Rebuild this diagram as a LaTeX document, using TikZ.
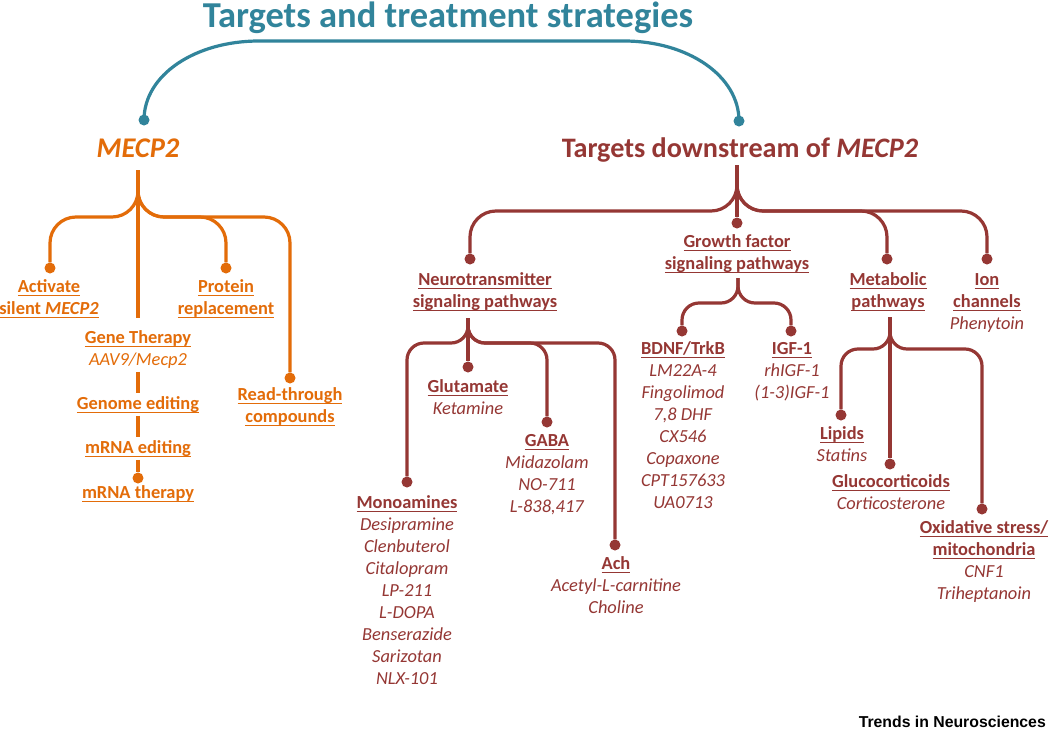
\documentclass[tikz,border=0pt]{standalone}
\usepackage{fontspec}
\setmainfont{Carlito}
\newfontfamily\trendsfont{Liberation Sans}
\definecolor{tealc}{HTML}{31849B}
\definecolor{orng}{HTML}{E36C09}
\definecolor{dred}{HTML}{953734}
\newsavebox\ulbox
\newcommand\ulx[1]{\sbox\ulbox{#1}\rlap{\rule[-4pt]{\wd\ulbox}{1.5pt}}\usebox\ulbox}
\newcommand\hd[1]{\textbf{\ulx{#1}}}
\newcommand\drug[1]{\textit{#1}}
\newcommand\blk[1]{\begin{tabular}[t]{@{}c@{}}#1\end{tabular}}
\tikzset{
  lnk/.style={line width=3.2pt},
  dotn/.style={circle, fill, inner sep=0pt, minimum size=11pt},
  txt/.style={inner sep=0pt, anchor=base, font=\fontsize{18.4}{22}\selectfont},
  otxt/.style={txt, text=orng},
  rtxt/.style={txt, text=dred},
  rA/.style={rounded corners=26pt},
  rB/.style={rounded corners=17pt},
}
\begin{document}
\begin{tikzpicture}[x=1pt,y=-1pt]
\useasboundingbox (0,0) rectangle (1050,734);
\fill[white] (0,0) rectangle (1050,734);

% ---- title level
\node[inner sep=0pt, anchor=base, text=tealc, font=\fontsize{36.5}{42}\selectfont\bfseries] (title) at (448,27) {Targets and treatment strategies};
\node[dotn, fill=tealc] (dL) at (144,120) {};
\node[dotn, fill=tealc] (dR) at (739,121) {};
\coordinate (ta) at (259,41);
\coordinate (tb) at (624,41);
\draw[lnk, tealc] (dL.center) .. controls +(0,-45) and +(-64,0) .. (ta) -- (tb) .. controls +(64,0) and +(0,-45) .. (dR.center);

\node[inner sep=0pt, anchor=base, text=orng, font=\fontsize{28.5}{34}\selectfont\bfseries] (mecp) at (138,157) {\textit{MECP2}};
\node[inner sep=0pt, anchor=base, text=dred, font=\fontsize{28.2}{34}\selectfont\bfseries] (down) at (740,157) {Targets downstream of \textit{MECP2}};

% ---- MECP2 tree
\coordinate (sM) at (138,170);
\coordinate (fM) at (138,217);
\node[dotn, fill=orng] (dAct) at (50,268) {};
\node[dotn, fill=orng] (dProt) at (226,268) {};
\node[dotn, fill=orng] (dRead) at (290,378) {};
\node[otxt] (act) at (49,292) {\blk{\hd{Activate}\\\hd{silent \textit{MECP2}}}};
\node[otxt] (prot) at (226,292) {\blk{\hd{Protein}\\\hd{replacement}}};
\node[otxt] (read) at (290,400) {\blk{\hd{Read-through}\\\hd{compounds}}};
\node[otxt] (gene) at (138,343) {\blk{\hd{Gene Therapy}\\\drug{AAV9/Mecp2}}};
\node[otxt] (genome) at (138,409) {\blk{\hd{Genome editing}}};
\node[otxt] (mrnae) at (138,453) {\blk{\hd{mRNA editing}}};
\node[dotn, fill=orng] (dTher) at (138,478) {};
\node[otxt] (mrnat) at (138,498) {\blk{\hd{mRNA therapy}}};

\begin{scope}[lnk, orng]
\draw[rA] (sM) -- (fM) -- (fM -| dAct) -- (dAct);
\draw[rA] (sM) -- (fM) -- (fM -| dProt) -- (dProt);
\draw[rA] (sM) -- (fM) -- (fM -| dRead) -- (dRead);
\draw[shorten >=9pt] (sM) -- (gene);
\draw (gene) -- (genome);
\draw (genome) -- (mrnae);
\draw (mrnae) -- (dTher);
\end{scope}

% ---- downstream tree
\coordinate (sD) at (737,165);
\coordinate (fD) at (737,211);
\node[dotn, fill=dred] (dNeu) at (470,259) {};
\node[dotn, fill=dred] (dGro) at (737,223) {};
\node[dotn, fill=dred] (dMet) at (887,259) {};
\node[dotn, fill=dred] (dIon) at (987,259) {};
\node[rtxt] (neu) at (485,285) {\blk{\hd{Neurotransmitter}\\\hd{signaling pathways}}};
\node[rtxt] (gro) at (737,247) {\blk{\hd{Growth factor}\\\hd{signaling pathways}}};
\node[rtxt] (met) at (888,285) {\blk{\hd{Metabolic}\\\hd{pathways}}};
\node[rtxt] (ion) at (987,285) {\blk{\hd{Ion}\\\hd{channels}\\\drug{Phenytoin}}};

\begin{scope}[lnk, dred]
\draw[rA] (sD) -- (fD) -- (fD -| dNeu) -- (dNeu);
\draw (sD) -- (dGro);
\draw[rA] (sD) -- (fD) -- (fD -| dMet) -- (dMet);
\draw[rA] (sD) -- (fD) -- (fD -| dIon) -- (dIon);
\end{scope}

% neurotransmitter subtree
\coordinate (sN) at (468,318);
\coordinate (fN) at (468,343);
\node[dotn, fill=dred] (dMono) at (407,482) {};
\node[dotn, fill=dred] (dGlu) at (468,367) {};
\node[dotn, fill=dred] (dGaba) at (547,422) {};
\node[dotn, fill=dred] (dAch) at (615,545) {};
\node[rtxt] (glu) at (468,392) {\blk{\hd{Glutamate}\\\drug{Ketamine}}};
\node[rtxt] (gaba) at (547,446) {\blk{\hd{GABA}\\\drug{Midazolam}\\\drug{NO-711}\\\drug{L-838,417}}};
\node[rtxt] (mono) at (407,508) {\blk{\hd{Monoamines}\\\drug{Desipramine}\\\drug{Clenbuterol}\\\drug{Citalopram}\\\drug{LP-211}\\\drug{L-DOPA}\\\drug{Benserazide}\\\drug{Sarizotan}\\\drug{NLX-101}}};
\node[rtxt] (ach) at (616,569) {\blk{\hd{Ach}\\\drug{Acetyl-L-carnitine}\\\drug{Choline}}};

\begin{scope}[lnk, dred]
\draw[rB] (sN) -- (fN) -- (fN -| dMono) -- (dMono);
\draw (sN) -- (dGlu);
\draw[rB] (sN) -- (fN) -- (fN -| dGaba) -- (dGaba);
\draw[rB] (sN) -- (fN) -- (fN -| dAch) -- (dAch);
\end{scope}

% growth factor subtree
\coordinate (sG) at (738,278);
\coordinate (fG) at (738,303);
\node[dotn, fill=dred] (dBdnf) at (682,331) {};
\node[dotn, fill=dred] (dIgf) at (791,331) {};
\node[rtxt] (bdnf) at (683,354) {\blk{\hd{BDNF/TrkB}\\\drug{LM22A-4}\\\drug{Fingolimod}\\\drug{7,8 DHF}\\\drug{CX546}\\\drug{Copaxone}\\\drug{CPT157633}\\\drug{UA0713}}};
\node[rtxt] (igf) at (792,354) {\blk{\hd{IGF-1}\\\drug{rhIGF-1}\\\drug{(1-3)IGF-1}}};

\begin{scope}[lnk, dred]
\draw[rB] (sG) -- (fG) -- (fG -| dBdnf) -- (dBdnf);
\draw[rB] (sG) -- (fG) -- (fG -| dIgf) -- (dIgf);
\end{scope}

% metabolic subtree
\coordinate (sT) at (890,317);
\coordinate (fT) at (890,349);
\node[dotn, fill=dred] (dLip) at (841,415) {};
\node[dotn, fill=dred] (dGlc) at (890,464) {};
\node[dotn, fill=dred] (dOx) at (982,509) {};
\node[rtxt] (lip) at (842,439) {\blk{\hd{Lipids}\\\drug{Statins}}};
\node[rtxt] (glc) at (891,487) {\blk{\hd{Glucocorticoids}\\\drug{Corticosterone}}};
\node[rtxt] (ox) at (984,533) {\blk{\hd{Oxidative stress/}\\\hd{mitochondria}\\\drug{CNF1}\\\drug{Triheptanoin}}};

\begin{scope}[lnk, dred]
\draw[rB] (sT) -- (fT) -- (fT -| dLip) -- (dLip);
\draw (sT) -- (dGlc);
\draw[rB] (sT) -- (fT) -- (fT -| dOx) -- (dOx);
\end{scope}

\node[inner sep=0pt, anchor=base east, font=\trendsfont\bfseries\fontsize{15.8}{19}\selectfont] (trends) at (1046,727) {Trends in Neurosciences};
\end{tikzpicture}
\end{document}
